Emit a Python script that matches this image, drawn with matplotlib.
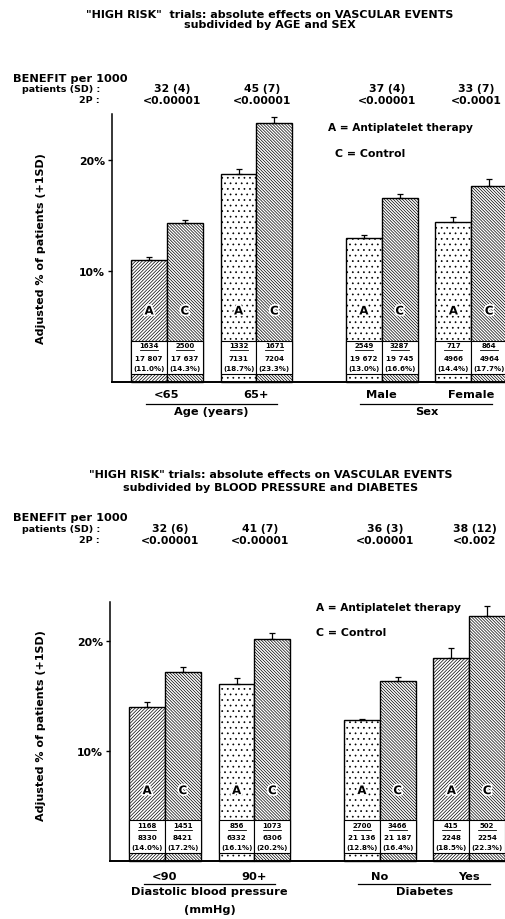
import numpy as np
import matplotlib
matplotlib.use("Agg")
import matplotlib.pyplot as plt
from matplotlib import patheffects
from matplotlib.transforms import blended_transform_factory

plt.rcParams['font.family'] = ['DejaVu Sans']
plt.rcParams['font.weight'] = 'bold'
plt.rcParams['hatch.linewidth'] = 0.5

W, H = 506, 920

# --- age / sex panel ---
age_groups = ['<65', '65+', 'Male', 'Female']
age_a_pct = [11.0, 18.7, 13.0, 14.4]
age_c_pct = [14.3, 23.3, 16.6, 17.7]
age_a_sd = [0.3, 0.45, 0.25, 0.45]
age_c_sd = [0.3, 0.6, 0.35, 0.55]
age_a_events = ['1634', '1332', '2549', '717']
age_a_n = ['17 807', '7131', '19 672', '4966']
age_c_events = ['2500', '1671', '3287', '864']
age_c_n = ['17 637', '7204', '19 745', '4964']
age_benefit = ['32 (4)', '45 (7)', '37 (4)', '33 (7)']
age_2p = ['<0.00001', '<0.00001', '<0.00001', '<0.0001']
age_domains = ['Age (years)', 'Sex']

# --- blood pressure / diabetes panel ---
bp_groups = ['<90', '90+', 'No', 'Yes']
bp_a_pct = [14.0, 16.1, 12.8, 18.5]
bp_c_pct = [17.2, 20.2, 16.4, 22.3]
bp_a_sd = [0.45, 0.5, 0.15, 0.9]
bp_c_sd = [0.4, 0.55, 0.3, 0.9]
bp_a_events = ['1168', '856', '2700', '415']
bp_a_n = ['8330', '6332', '21 136', '2248']
bp_c_events = ['1451', '1073', '3466', '502']
bp_c_n = ['8421', '6306', '21 187', '2254']
bp_benefit = ['32 (6)', '41 (7)', '36 (3)', '38 (12)']
bp_2p = ['<0.00001', '<0.00001', '<0.00001', '<0.002']
bp_domains = ['Diastolic blood pressure\n(mmHg)', 'Diabetes']

positions = np.array([0.0, 1.0, 2.4, 3.4])
bar_w = 0.4
px_per_unit = 89.5
HATCH_C = '\\' * 11
HATCH_LINE = '/' * 10
HATCH_DOT = '...'

fig = plt.figure(figsize=(W / 100, H / 100), dpi=100)
fig.patch.set_facecolor('white')


def fy(y):
    return 1 - y / H


def draw_panel(p):
    left, base, top, ppp = p['left'], p['base'], p['top'], p['px_per_pct']
    ax = fig.add_axes([left / W, fy(base), (W - left) / W, (base - top) / H])
    x0 = -(p['first_center'] - left) / px_per_unit
    ax.set_xlim(x0, x0 + (W - left) / px_per_unit)
    ax.set_ylim(0, (base - top) / ppp)
    for s in ['top', 'right']:
        ax.spines[s].set_visible(False)
    ax.spines['left'].set_linewidth(1.1)
    ax.spines['bottom'].set_linewidth(1.4)
    ax.set_yticks([10, 20])
    ax.set_yticklabels(['10%', '20%'], fontsize=7.8)
    ax.set_xticks(positions)
    ax.set_xticklabels(p['groups'], fontsize=8.2)
    ax.tick_params(axis='y', length=3, width=1, pad=2)
    ax.tick_params(axis='x', length=0, pad=p['xpad'])

    xa = positions - bar_w / 2
    xc = positions + bar_w / 2
    cols = [(xa, p['a'], p['a_sd'], p['a_ev'], p['a_n'], p['a_hatch'], 'A'),
            (xc, p['c'], p['c_sd'], p['c_ev'], p['c_n'], [HATCH_C] * 4, 'C')]
    for xs, vals, sds, evs, ns, hatches, letter in cols:
        for x, v, sd, ev, n, h in zip(xs, vals, sds, evs, ns, hatches):
            ax.bar(x, v, bar_w, color='white', edgecolor='black', hatch=h,
                   linewidth=1.0, clip_on=False, zorder=2)
            ax.errorbar(x, v, yerr=[[0], [sd]], fmt='none', ecolor='black',
                        elinewidth=0.9, capsize=2.5, capthick=0.9, zorder=3,
                        clip_on=False)
            # count box at the foot of each bar
            ax.bar(x, 3.0, bar_w, bottom=0.7, color='white', edgecolor='black',
                   linewidth=0.8, zorder=4, clip_on=False)
            ax.text(x, 3.3, ev, ha='center', va='center', fontsize=5.0, zorder=5)
            ax.plot([x - 0.1, x + 0.1], [2.85, 2.85], color='black', lw=0.6, zorder=5)
            ax.text(x, 2.15, n, ha='center', va='center', fontsize=5.1, zorder=5)
            ax.text(x, 1.25, '(%.1f%%)' % v, ha='center', va='center',
                    fontsize=5.1, zorder=5)
            ax.text(x, 6.4, letter, ha='center', va='center', fontsize=8.5,
                    zorder=5, path_effects=[patheffects.withStroke(linewidth=2.5,
                                                                   foreground='white')])

    tr = blended_transform_factory(ax.transData, fig.transFigure)
    hy = sum(p['hdr_y']) / 2
    for x, b, pv in zip(positions, p['benefit'], p['p2']):
        ax.text(x + 0.06, fy(hy), b + '\n' + pv, transform=tr, ha='center',
                va='center', fontsize=7.8, linespacing=1.22)

    for i, name in enumerate(p['domains']):
        g0, g1 = positions[2 * i], positions[2 * i + 1]
        ax.plot([g0 - 0.24, g1 + 0.23], [fy(p['rule_y'])] * 2, transform=tr,
                color='black', lw=0.9, clip_on=False)
        ax.text((g0 + g1) / 2, fy(p['rule_y'] + 2), name, transform=tr,
                ha='center', va='top', fontsize=8.2, linespacing=2.0)

    ty = sum(p['title_y']) / 2
    fig.text(p['title_x'] / W, fy(ty), '\n'.join(p['title']), ha='center',
             va='center', fontsize=8, linespacing=p['title_ls'])
    fig.text(13 / W, fy(p['ben_y'][0]), 'BENEFIT per 1000', ha='left',
             va='center', fontsize=8.2)
    fig.text(100 / W, fy((p['ben_y'][1] + p['ben_y'][2]) / 2),
             'patients (SD) :\n2P :', ha='right', va='center', fontsize=6.8,
             linespacing=1.4)
    fig.text(p['leg_x'][0] / W, fy(p['leg_y'][0]), 'A = Antiplatelet therapy',
             ha='left', va='center', fontsize=7.6)
    fig.text(p['leg_x'][1] / W, fy(p['leg_y'][1]), 'C = Control', ha='left',
             va='center', fontsize=7.9)
    fig.text(41 / W, fy(p['ylab_y']), 'Adjusted % of patients (+1SD)',
             rotation=90, ha='center', va='center', fontsize=8)
    return ax


age_panel = dict(
    left=112, base=383, top=115, px_per_pct=11.1, first_center=167, xpad=5,
    groups=age_groups, a=age_a_pct, c=age_c_pct, a_sd=age_a_sd, c_sd=age_c_sd,
    a_ev=age_a_events, a_n=age_a_n, c_ev=age_c_events, c_n=age_c_n,
    a_hatch=[HATCH_LINE, HATCH_DOT, HATCH_DOT, HATCH_DOT],
    benefit=age_benefit, p2=age_2p, domains=age_domains,
    hdr_y=(90, 100), rule_y=405,
    title=['"HIGH RISK"  trials: absolute effects on VASCULAR EVENTS',
           'subdivided by AGE and SEX'],
    title_x=270, title_y=(15, 25), title_ls=1.05, ben_y=(79, 90, 100),
    leg_x=(328, 335), leg_y=(128, 154), ylab_y=249,
)

bp_panel = dict(
    left=110, base=862, top=603, px_per_pct=11.0, first_center=165, xpad=7,
    groups=bp_groups, a=bp_a_pct, c=bp_c_pct, a_sd=bp_a_sd, c_sd=bp_c_sd,
    a_ev=bp_a_events, a_n=bp_a_n, c_ev=bp_c_events, c_n=bp_c_n,
    a_hatch=[HATCH_LINE, HATCH_DOT, HATCH_DOT, HATCH_LINE],
    benefit=bp_benefit, p2=bp_2p, domains=bp_domains,
    hdr_y=(530, 540), rule_y=885,
    title=['"HIGH RISK" trials: absolute effects on VASCULAR EVENTS',
           'subdivided by BLOOD PRESSURE and DIABETES'],
    title_x=271, title_y=(475, 488), title_ls=1.45, ben_y=(518, 530, 540),
    leg_x=(316, 316), leg_y=(608, 633), ylab_y=726,
)

draw_panel(age_panel)
draw_panel(bp_panel)

fig.savefig('out.png', dpi=100, facecolor='white')
